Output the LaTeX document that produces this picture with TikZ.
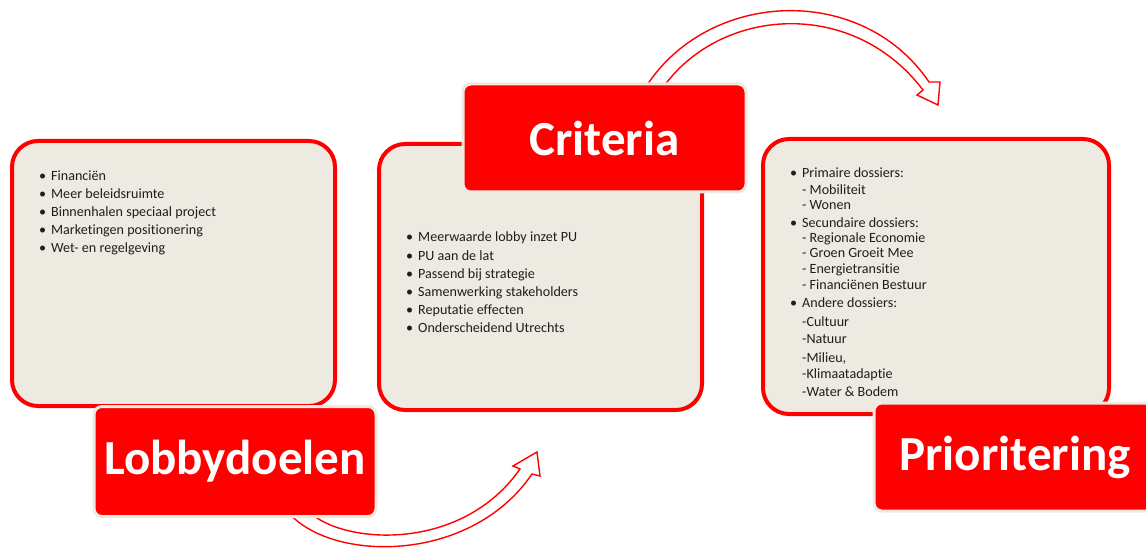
\documentclass[tikz,border=0pt]{standalone}
\usepackage{fontspec}
\setmainfont{Carlito}[Ligatures=NoCommon]
\definecolor{boxfill}{RGB}{237,234,226}
\definecolor{txt}{RGB}{30,30,30}
\newcommand\bul{\makebox[0pt][r]{•\hspace{5pt}}}
\begin{document}
\begin{tikzpicture}[x=1pt,y=-1pt,
  content/.style={draw=red,line width=4pt,fill=boxfill,rounded corners=26pt,inner sep=0pt},
  header/.style={draw=boxfill,line width=3pt,fill=red,rounded corners=8pt,inner sep=0pt,
    text=white,font=\fontsize{49}{51}\selectfont\bfseries},
  bigarrow/.style={draw=red,line width=1.4pt,fill=white,line join=miter},
  item/.style={anchor=base west,inner sep=0pt,text=txt,font=\fontsize{14.1}{16}\selectfont}]
\useasboundingbox (0,0) rectangle (1146,548);
\clip (0,0) rectangle (1146,548);

% content boxes
\node[content,minimum width=323pt,minimum height=265pt] (lbox) at (173.5,273.5) {};
\node[content,minimum width=323pt,minimum height=266pt] (mbox) at (540.5,277) {};
\node[content,minimum width=346pt,minimum height=275pt] (rbox) at (936,276.5) {};

% curved block arrows
\draw[bigarrow] (641,95) .. controls (700,-10) and (860,-20) .. (929,82)
  -- (940,82) -- (938,105) -- (917,95) -- (923,90)
  .. controls (850,-6) and (712,8) .. (658,95) -- cycle;
\draw[bigarrow] (288,512) .. controls (330,562) and (470,565) .. (532,474)
  -- (540,476) -- (537,452) -- (513,466) -- (520,469)
  .. controls (462,552) and (345,545) .. (309,512) -- cycle;

% headers
\node[header,minimum width=282pt,minimum height=110pt] (lhead) at (235,461.5) {Lobbydoelen};
\node[header,minimum width=283pt,minimum height=108pt] (mhead) at (604.5,138) {Criteria};
\node[header,minimum width=282pt,minimum height=108pt] (rhead) at (1015,457) {Prioritering};

% left list
\foreach \yy/\tt [count=\i] in {181/Financiën,199/Meer beleidsruimte,217/Binnenhalen speciaal project,235/Marketingen positionering,253/Wet- en regelgeving}
  \node[item] (l\i) at (51,\yy) {\bul\tt};

% middle list
\foreach \yy/\tt [count=\i] in {242/Meerwaarde lobby inzet PU,260/PU aan de lat,278/Passend bij strategie,296/Samenwerking stakeholders,314/Reputatie effecten,332/Onderscheidend Utrechts}
  \node[item] (m\i) at (418,\yy) {\bul\tt};

% right list
\node[item] (r1) at (802,178) {\bul Primaire dossiers:};
\node[item] (r2) at (802,195) {- Mobiliteit};
\node[item] (r3) at (802,210) {- Wonen};
\node[item] (r4) at (802,228) {\bul Secundaire dossiers:};
\node[item] (r5) at (802,243) {- Regionale Economie};
\node[item] (r6) at (802,258) {- Groen Groeit Mee};
\node[item] (r7) at (802,273) {- Energietransitie};
\node[item] (r8) at (802,289) {- Financiënen Bestuur};
\node[item] (r9) at (802,307) {\bul Andere dossiers:};
\node[item] (r10) at (802,326) {-Cultuur};
\node[item] (r11) at (802,343) {-Natuur};
\node[item] (r12) at (802,362) {-Milieu,};
\node[item] (r13) at (802,378) {-Klimaatadaptie};
\node[item] (r14) at (802,396) {-Water \& Bodem};
\end{tikzpicture}
\end{document}
